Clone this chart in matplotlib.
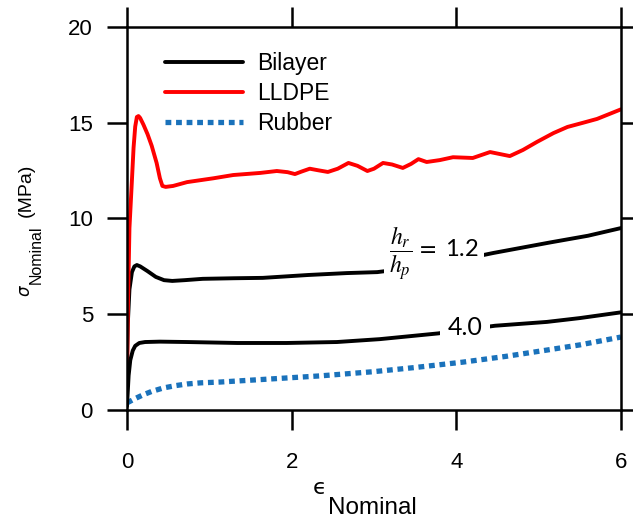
import numpy as np
import matplotlib
matplotlib.use("Agg")
import matplotlib.pyplot as plt

plt.rcParams['font.family'] = ['Liberation Sans', 'DejaVu Sans']

# 数据
eps_l = [0, 0.01, 0.03, 0.06, 0.08, 0.1, 0.12, 0.14, 0.16, 0.2, 0.25, 0.3, 0.36,
         0.4, 0.43, 0.47, 0.56, 0.73, 1.05, 1.29, 1.62, 1.82, 1.95, 2.04, 2.12,
         2.22, 2.32, 2.44, 2.56, 2.69, 2.8, 2.92, 3.0, 3.11, 3.22, 3.35, 3.45,
         3.54, 3.64, 3.8, 3.96, 4.2, 4.41, 4.65, 4.81, 4.98, 5.18, 5.35, 5.54,
         5.71, 6.0]
sig_l = [0.5, 5.0, 9.5, 12.0, 13.7, 14.8, 15.3, 15.35, 15.25, 14.9, 14.4, 13.8, 12.9,
         12.1, 11.7, 11.65, 11.7, 11.9, 12.1, 12.27, 12.38, 12.48, 12.42, 12.32, 12.45,
         12.6, 12.52, 12.43, 12.6, 12.9, 12.75, 12.48, 12.6, 12.9, 12.82, 12.64, 12.85,
         13.1, 12.95, 13.05, 13.2, 13.16, 13.47, 13.26, 13.58, 14.0, 14.46, 14.78, 15.0,
         15.2, 15.7]

eps_b12 = [0, 0.01, 0.03, 0.06, 0.09, 0.12, 0.16, 0.25, 0.35, 0.45, 0.55, 0.7, 0.92,
           1.3, 1.65, 2.2, 2.67, 3.04, 3.5, 4.0, 4.45, 5.14, 5.6, 6.0]
sig_b12 = [2.7, 4.5, 6.3, 7.2, 7.5, 7.57, 7.5, 7.25, 6.95, 6.78, 6.74, 6.78, 6.85,
           6.88, 6.9, 7.05, 7.15, 7.2, 7.45, 7.8, 8.2, 8.75, 9.1, 9.5]

eps_b40 = [0, 0.01, 0.02, 0.04, 0.07, 0.1, 0.15, 0.22, 0.4, 0.73, 1.34, 1.94, 2.55,
           3.07, 3.78, 4.47, 5.1, 5.5, 6.0]
sig_b40 = [0.2, 1.0, 1.8, 2.6, 3.1, 3.35, 3.5, 3.55, 3.57, 3.55, 3.5, 3.5, 3.55,
           3.7, 4.0, 4.4, 4.6, 4.8, 5.1]

eps_r = [0, 0.1, 0.2, 0.3, 0.44, 0.6, 0.73, 0.9, 1.13, 1.74, 2.34, 2.99, 3.5, 4.08,
         4.6, 5.1, 5.5, 6.0]
sig_r = [0.37, 0.6, 0.8, 0.97, 1.15, 1.28, 1.36, 1.42, 1.46, 1.62, 1.78, 2.0, 2.22,
         2.5, 2.8, 3.13, 3.4, 3.81]

x_ticks = [0, 2, 4, 6]
y_ticks = [0, 5, 10, 15, 20]

fig = plt.figure(figsize=(6.33, 5.19), dpi=100)
ax = fig.add_axes([0.2006, 0.21, 0.7804, 0.738])

kw = dict(solid_joinstyle='round', solid_capstyle='round')
ax.plot(eps_b12, sig_b12, color='black', lw=2.8, label='Bilayer', **kw)
ax.plot(eps_l, sig_l, color='#ff0000', lw=2.8, label='LLDPE', **kw)
ax.plot(eps_r, sig_r, color='#1a72bb', lw=3.8, dashes=(1.1, 0.9), label='Rubber')
ax.plot(eps_b40, sig_b40, color='black', lw=2.8, **kw)

ax.set_xlim(0, 6)
ax.set_ylim(0, 20)
ax.set_xticks(x_ticks)
ax.set_yticks(y_ticks)

for s in ax.spines.values():
    s.set_linewidth(1.8)
ax.tick_params(direction='out', length=14.5, width=1.8, top=True, right=True,
               labelsize=16)
ax.tick_params(axis='x', pad=16)
ax.tick_params(axis='y', pad=10)

# 标注 h_r/h_p
ax.text(3.73, 8.15, r'$\dfrac{h_r}{h_p}\,=$ 1.2', fontsize=17, family='Lato',
        math_fontfamily='stix', ha='center', va='center',
        bbox=dict(boxstyle='square,pad=0.2', fc='white', ec='none'))
ax.text(4.11, 4.33, '4.0', fontsize=18, family='Lato', ha='center', va='center',
        bbox=dict(boxstyle='square,pad=0.3', fc='white', ec='none'))

# 坐标轴标签
ax.text(0.389, -0.203, '\u03f5', fontsize=16, family='DejaVu Sans',
        transform=ax.transAxes, ha='center', va='center')
ax.text(0.497, -0.256, 'Nominal', fontsize=17.5, transform=ax.transAxes,
        ha='center', va='center')
ax.text(-0.205, 0.311, r'$\sigma$', fontsize=12, math_fontfamily='dejavusans',
        transform=ax.transAxes, rotation=90, ha='center', va='center')
ax.text(-0.184, 0.405, 'Nominal', fontsize=11.5, transform=ax.transAxes,
        rotation=90, ha='center', va='center')
ax.text(-0.203, 0.574, '(MPa)', fontsize=14, transform=ax.transAxes,
        rotation=90, ha='center', va='center')

ax.legend(loc='upper left', bbox_to_anchor=(0.077, 0.935), frameon=False,
          fontsize=16.5, handlelength=3.4, handletextpad=0.6, labelspacing=0.3,
          borderpad=0, borderaxespad=0)

plt.savefig('out.png', dpi=100)
